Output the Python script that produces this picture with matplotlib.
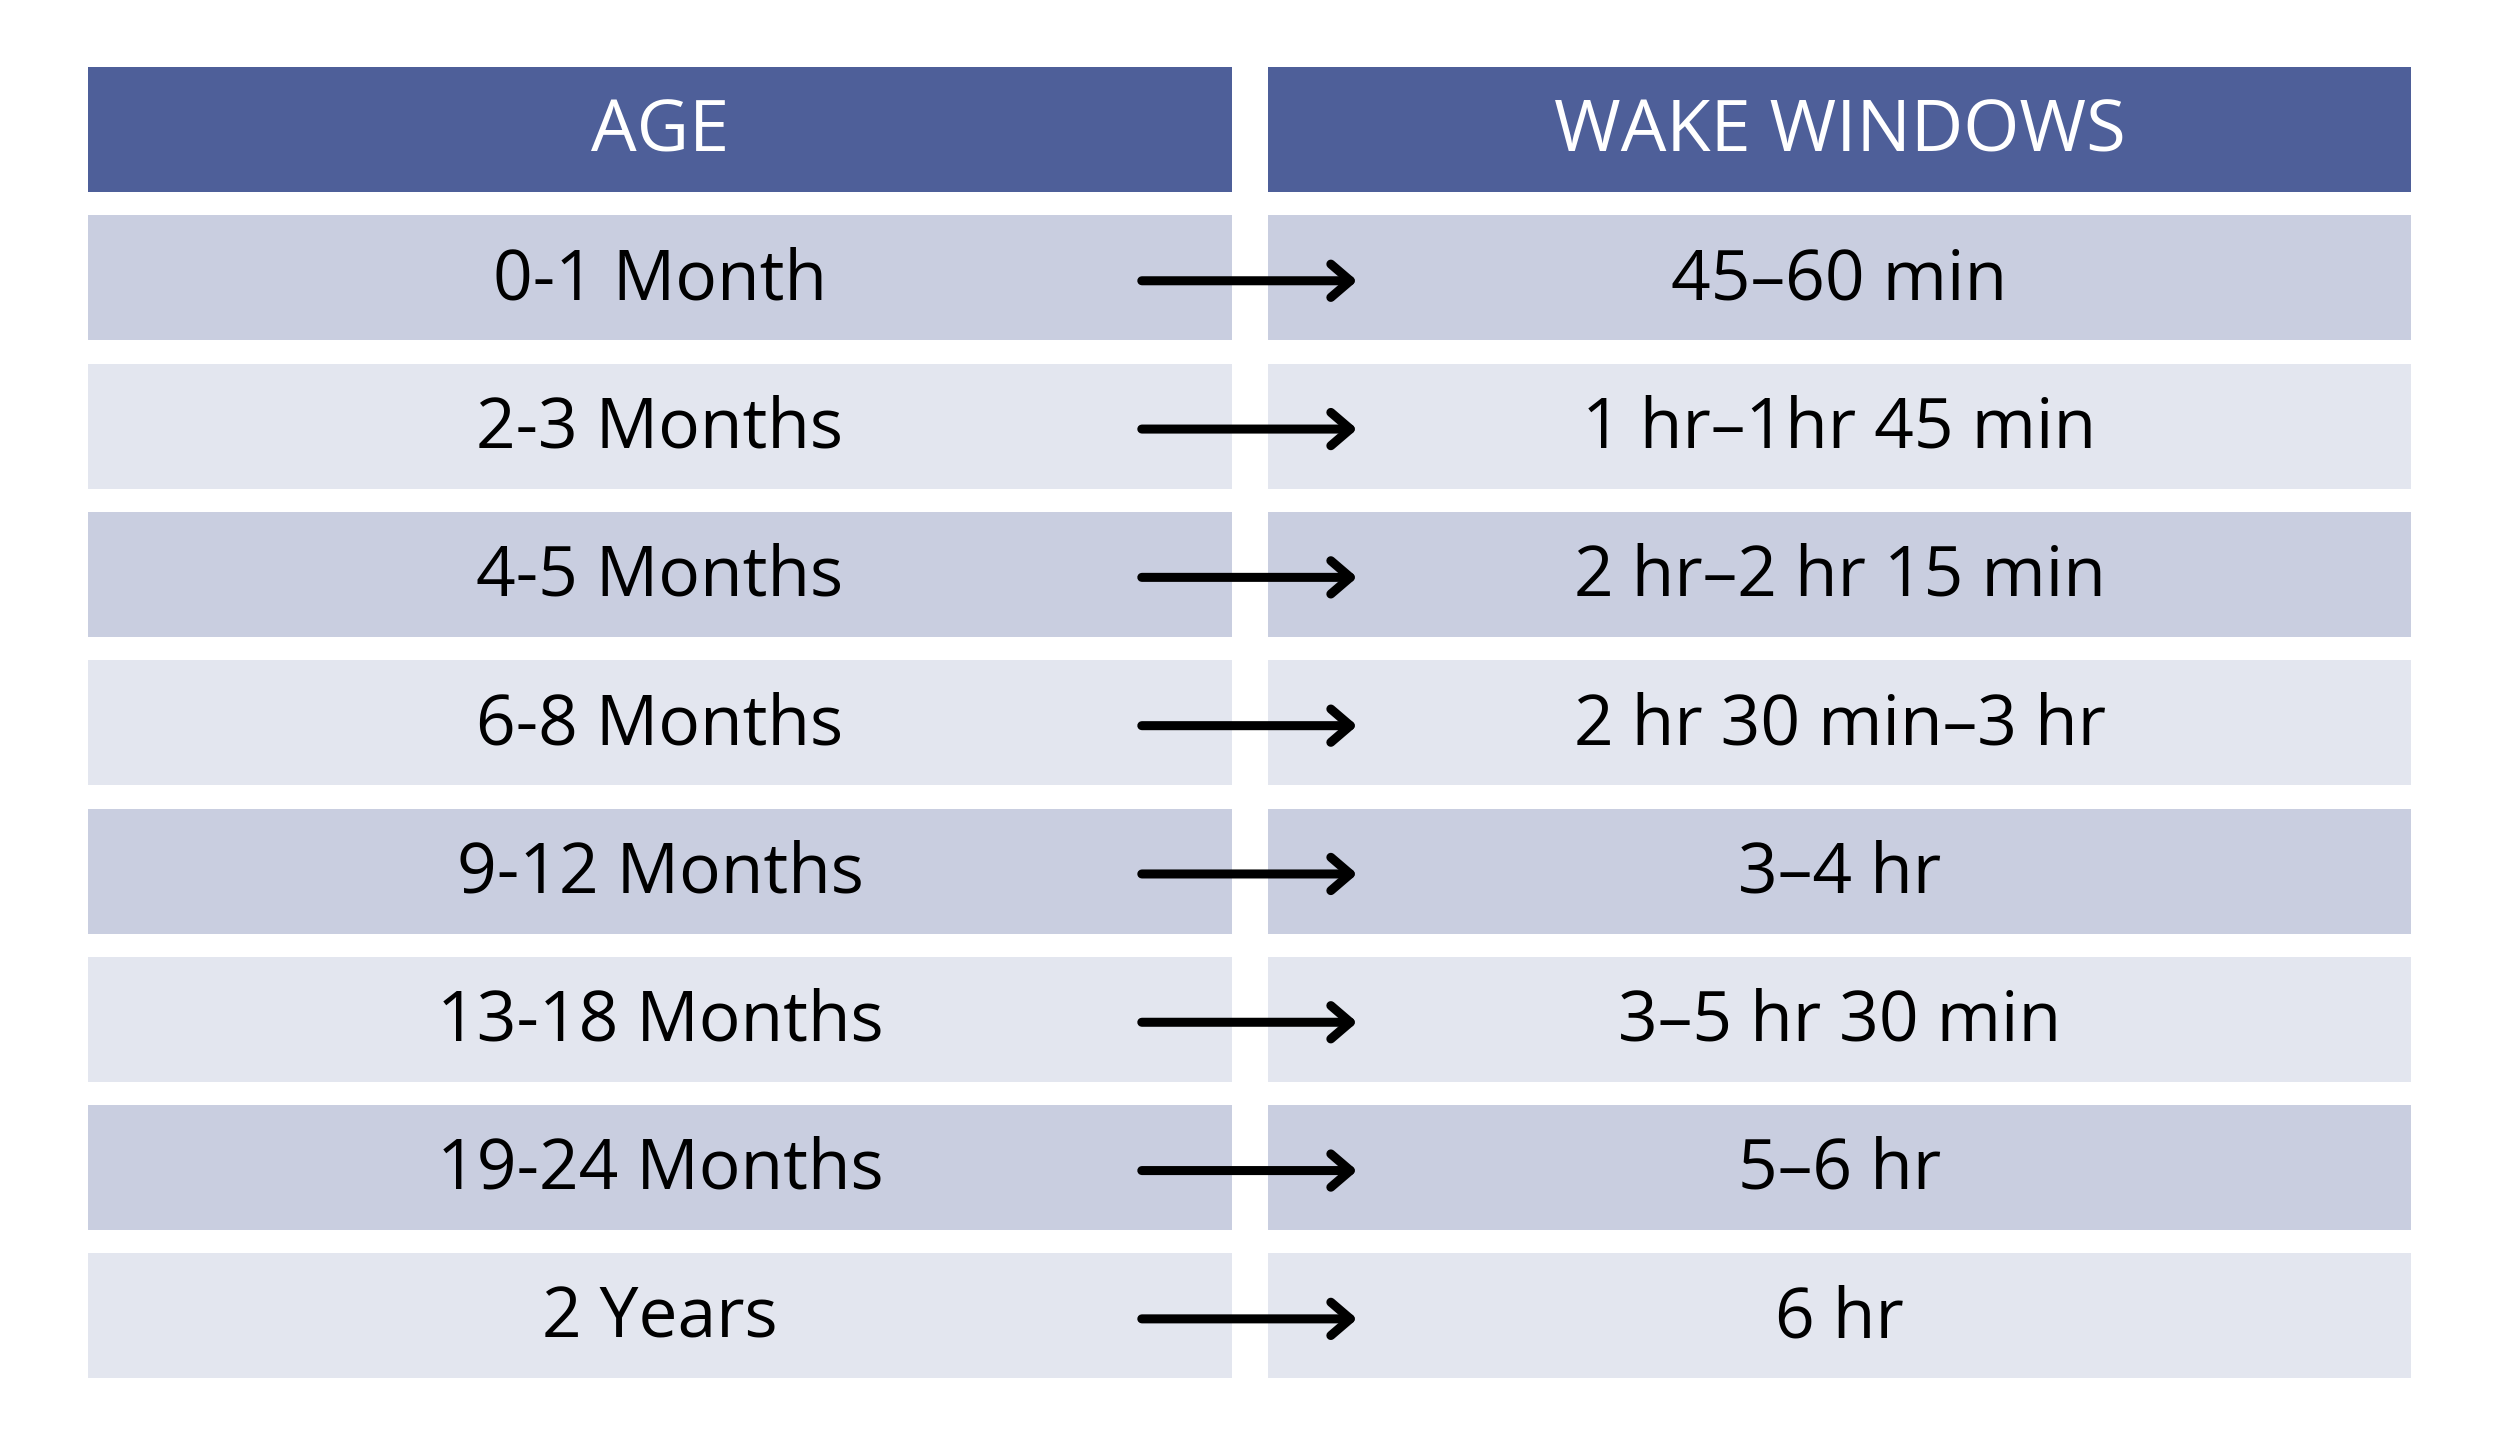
import matplotlib
matplotlib.use("Agg")
from matplotlib import pyplot as plt
from matplotlib.patches import FancyArrowPatch

# table content
headers = ["AGE", "WAKE WINDOWS"]
ages = ["0-1 Month", "2-3 Months", "4-5 Months", "6-8 Months",
        "9-12 Months", "13-18 Months", "19-24 Months", "2 Years"]
windows = ["45\u201360 min", "1 hr\u20131hr 45 min", "2 hr\u20132 hr 15 min",
           "2 hr 30 min\u20133 hr", "3\u20134 hr", "3\u20135 hr 30 min",
           "5\u20136 hr", "6 hr"]

# colours
header_col = "#4E5F99"
dark_row = "#C9CEE0"
light_row = "#E3E6EF"

plt.rcParams['font.family'] = ['Open Sans', 'DejaVu Sans']

W, H = 2499, 1451
fig = plt.figure(figsize=(W / 100, H / 100), dpi=100)
ax = fig.add_axes([0, 0, 1, 1])
ax.set_xlim(0, W)
pitch = 148.3
ax.set_ylim(-1 + (H - 129.5) / pitch, -1 - 129.5 / pitch)
ax.axis("off")

left_col = (88, 1232)
right_col = (1268, 2411)
bh = 125 / pitch
fs = 50
text_dy = -0.035

# header
for (x0, x1), lab in zip([left_col, right_col], headers):
    ax.barh(-1, x1 - x0, left=x0, height=bh, color=header_col, linewidth=0)
    ax.text((x0 + x1) / 2, -1 + text_dy, lab, color="white", fontsize=52,
            ha="center", va="center_baseline")

# rows
for i, (a, w) in enumerate(zip(ages, windows)):
    col = dark_row if i % 2 == 0 else light_row
    for (x0, x1), lab in zip([left_col, right_col], [a, w]):
        ax.barh(i, x1 - x0, left=x0, height=bh, color=col, linewidth=0)
        ax.text((x0 + x1) / 2, i + text_dy, lab, color="black", fontsize=fs,
                ha="center", va="center_baseline")
    arr = FancyArrowPatch((1139, i + 0.02), (1360, i + 0.02),
                          arrowstyle="->,head_length=14,head_width=12",
                          mutation_scale=1, lw=6.5, color="black",
                          capstyle="round", joinstyle="round", zorder=5)
    ax.add_patch(arr)

fig.savefig("out.png", dpi=100)
